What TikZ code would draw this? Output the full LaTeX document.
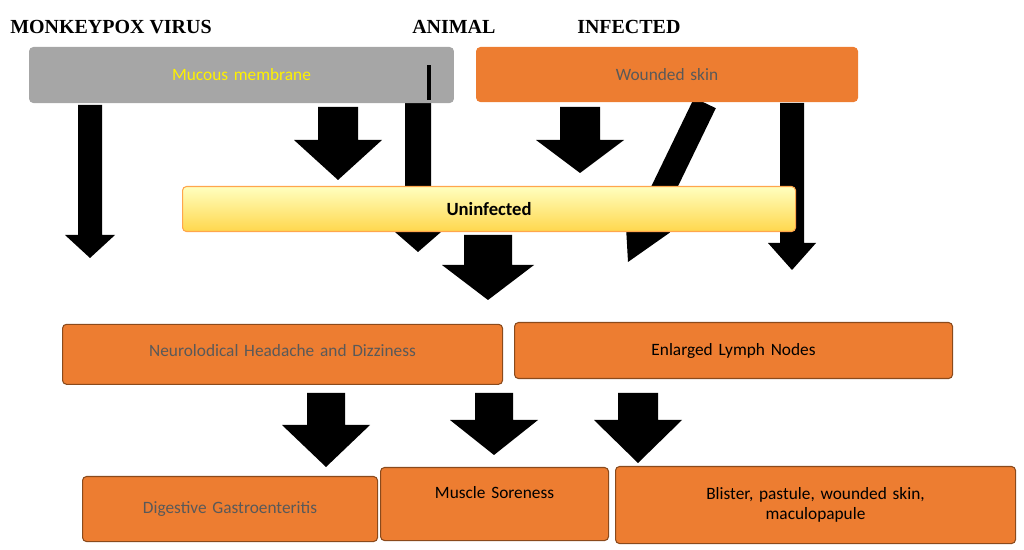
\documentclass[tikz,border=0pt]{standalone}
\usepackage{fontspec}
\setmainfont{Carlito}
\newfontfamily\headfont{Liberation Serif}
\usetikzlibrary{positioning}
\definecolor{boxorange}{HTML}{ED7D31}
\definecolor{boxline}{HTML}{8A4A1C}
\definecolor{greytext}{HTML}{595959}
\tikzstyle{obox} = [rectangle, rounded corners=3pt, fill=boxorange, draw=boxline, thick, anchor=north west, inner sep=0pt, font=\fontsize{13}{15}\selectfont]
\tikzstyle{head} = [anchor=west, inner sep=0pt, font=\headfont\bfseries\fontsize{15}{17}\selectfont]
% block arrow: x centre, top, shaft half width, head half width, head base, tip
\newcommand{\blockarrow}[6]{\fill (#1-#3,#2) -- (#1+#3,#2) -- (#1+#3,#5) -- (#1+#4,#5) -- (#1,#6) -- (#1-#4,#5) -- (#1-#3,#5) -- cycle;}
\begin{document}
\begin{tikzpicture}[x=0.0264cm, y=-0.0264cm]
		\useasboundingbox (0,0) rectangle (1024,550);
		
		\node (Virus) [head] at (10,27) {MONKEYPOX VIRUS};
		\node (Animal) [head] at (412,27) {ANIMAL};
		\node (Infected) [head] at (577,27) {INFECTED};
		
		\blockarrow{90}{105}{12}{25}{235}{258}
		\blockarrow{338}{107}{20}{44}{140}{180}
		\blockarrow{580}{107}{20}{44}{140}{173}
		\blockarrow{792}{103}{12}{24}{243}{270}
		\fill (715.8,108.2) -- (694.2,97.8) -- (636.8,216.3) -- (625.1,210.6) -- (628,262) -- (670.1,232.4) -- (658.4,226.7) -- cycle;
		\blockarrow{418}{65}{13}{23}{232}{252}
		
		\node (Mucous) [obox, fill={gray!70}, draw={gray!70}, minimum width=398\pgflinewidth, text width=398*0.0264cm, minimum height=55*0.0264cm, align=center, text=yellow] at (29,47) {Mucous membrane};
		\fill (427,65) rectangle (431,100);
		\node (Wounded) [obox, draw=boxorange, text width=381*0.0264cm, minimum height=54*0.0264cm, align=center, text=greytext] at (476,47) {Wounded skin};
		
		\node (Uninfected) [obox, top color=yellow!25, bottom color=yellow!55!orange!70, draw=orange!70, text width=613*0.0264cm, minimum height=45*0.0264cm, align=center, font=\bfseries\fontsize{14}{16}\selectfont] at (182,186) {Uninfected};
		
		\blockarrow{488}{235}{24}{46}{265}{300}
		
		\node (Neuro) [obox, text width=440*0.0264cm, minimum height=60*0.0264cm, align=center, text=greytext, yshift=-0.1cm] at (62,320) {\raisebox{6pt}{Neurolodical Headache and Dizziness}};
		\node (Lymph) [obox, text width=438*0.0264cm, minimum height=56*0.0264cm, align=center] at (514,322) {Enlarged Lymph Nodes};
		
		\blockarrow{326}{393}{19}{44}{425}{467}
		\blockarrow{494}{393}{19}{44}{420}{455}
		\blockarrow{638}{393}{20}{44}{420}{463}
		
		\node (Digestive) [obox, text width=295*0.0264cm, minimum height=65*0.0264cm, align=center, text=greytext] at (82,476) {Digestive Gastroenteritis};
		\node (Muscle) [obox, text width=228*0.0264cm, minimum height=73*0.0264cm, align=center] at (380,467) {\raisebox{18pt}{Muscle Soreness}};
		\node (Blister) [obox, text width=400*0.0264cm, minimum height=77*0.0264cm, align=center] at (615,466) {Blister, pastule, wounded skin,\\maculopapule};
		
		\end{tikzpicture}
\end{document}
